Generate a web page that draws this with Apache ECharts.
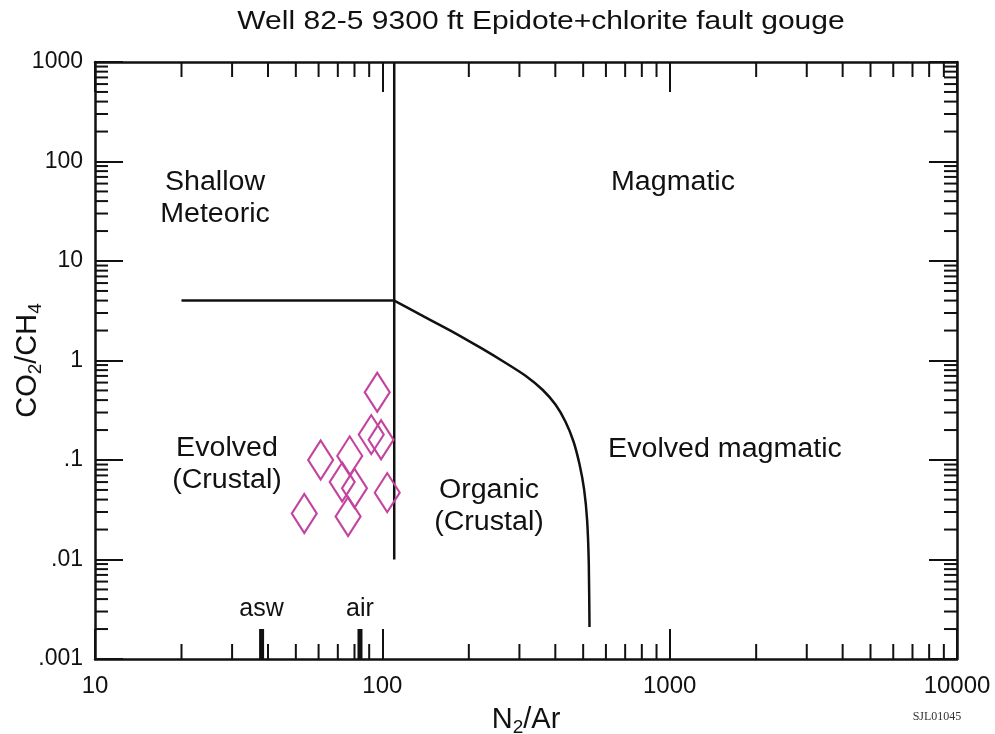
<!DOCTYPE html>
<html>
<head>
<meta charset="utf-8">
<script src="https://cdn.jsdelivr.net/npm/echarts@6/dist/echarts.min.js"></script>
<style>
  html, body { margin: 0; padding: 0; background: #fff; }
  #chart { width: 995px; height: 734px; }
</style>
</head>
<body>
<div id="chart"></div>
<script>
// samples (N2/Ar, CO2/CH4)
const sampleN2Ar   = [96, 91.5, 99, 61, 77, 72.5, 80, 104, 53.5, 76];
const sampleCO2CH4 = [0.48, 0.18, 0.16, 0.1, 0.11, 0.06, 0.052, 0.047, 0.029, 0.027];

// field boundaries
const splitN2Ar = 110;
const splitCO2CH4 = 4;
const meteoricStartN2Ar = 20;
const splitBottomCO2CH4 = 0.01;
const curveN2Ar   = [110, 135.6, 172.6, 219.5, 268, 315, 361, 401, 434, 463, 486, 504, 516, 523, 526];
const curveCO2CH4 = [4, 2.89, 2.0, 1.345, 0.95, 0.703, 0.508, 0.359, 0.242, 0.1525, 0.0894, 0.0501,
                     0.025, 0.0092, 0.0021];

// reference markers on the x axis
const refNames = ['asw', 'air'];
const refN2Ar  = [38, 83.6];
const refTop   = 0.002;

// axis ranges and minor ticks
const xMin = 10, xMax = 10000;
const yMin = 0.001, yMax = 1000;
const xMinorTicks = [20, 30, 40, 50, 60, 70, 80, 90, 200, 300, 400, 500, 600, 700, 800, 900,
                     2000, 3000, 4000, 5000, 6000, 7000, 8000, 9000];
const yMinorTicks = [0.002, 0.003, 0.004, 0.005, 0.006, 0.007, 0.008, 0.009,
                     0.02, 0.03, 0.04, 0.05, 0.06, 0.07, 0.08, 0.09,
                     0.2, 0.3, 0.4, 0.5, 0.6, 0.7, 0.8, 0.9,
                     2, 3, 4, 5, 6, 7, 8, 9,
                     20, 30, 40, 50, 60, 70, 80, 90,
                     200, 300, 400, 500, 600, 700, 800, 900];

const FONT = '"Liberation Sans", Arial, Helvetica, sans-serif';
const INK = '#111';
const PINK = '#c4439e';

const fmtNum = v => {
  const s = String(Number(v.toPrecision(6)));
  return s.startsWith('0.') ? s.slice(1) : s;
};

const chart = echarts.init(document.getElementById('chart'));

const logAxis = (min, max, position, showLabel, tickLen, splitNumber) => ({
  type: 'log',
  logBase: 10,
  min: min,
  max: max,
  splitNumber: splitNumber,
  position: position,
  axisLine: { show: true, onZero: false, lineStyle: { color: INK, width: 2.5 } },
  axisTick: { show: true, inside: true, length: tickLen, lineStyle: { color: INK, width: 2 } },
  axisLabel: { show: showLabel, color: INK, fontSize: 24, fontFamily: FONT, formatter: fmtNum },
  splitLine: { show: false }
});

const nameStyle = {
  color: INK, fontSize: 29, fontFamily: FONT, lineHeight: 34,
  rich: { s: { fontSize: 19, lineHeight: 18, verticalAlign: 'bottom', fontFamily: FONT, color: INK } }
};

const xBottom = logAxis(xMin, xMax, 'bottom', true, 30, 3);
xBottom.axisLabel.margin = 15;
xBottom.name = 'N{s|2}/Ar';
xBottom.nameLocation = 'middle';
xBottom.nameGap = 44;
xBottom.nameMoveOverlap = false;
xBottom.nameTextStyle = nameStyle;
const xTop = logAxis(xMin, xMax, 'top', false, 30, 3);

const yLeft = logAxis(yMin, yMax, 'left', true, 28, 6);
yLeft.axisLabel.margin = 12;
yLeft.axisLabel.fontSize = 23;
yLeft.name = 'CO{s|2}/CH{s|4}';
yLeft.nameLocation = 'middle';
yLeft.nameGap = 50;
yLeft.nameMoveOverlap = false;
yLeft.nameTextStyle = nameStyle;
const yRight = logAxis(yMin, yMax, 'right', false, 28, 6);

// minor ticks drawn through the axes' own scales
const minorX = {
  type: 'custom',
  silent: true,
  data: xMinorTicks.map(v => [v, 1]),
  renderItem: (params, api) => {
    const b = api.coord([api.value(0), yMin]);
    const t = api.coord([api.value(0), yMax]);
    const st = { stroke: INK, lineWidth: 2 };
    return { type: 'group', children: [
      { type: 'line', shape: { x1: b[0], y1: b[1], x2: b[0], y2: b[1] - 15 }, style: st },
      { type: 'line', shape: { x1: t[0], y1: t[1], x2: t[0], y2: t[1] + 15 }, style: st }
    ] };
  }
};
const minorY = {
  type: 'custom',
  silent: true,
  data: yMinorTicks.map(v => [100, v]),
  renderItem: (params, api) => {
    const l = api.coord([xMin, api.value(1)]);
    const r = api.coord([xMax, api.value(1)]);
    const st = { stroke: INK, lineWidth: 2 };
    return { type: 'group', children: [
      { type: 'line', shape: { x1: l[0], y1: l[1], x2: l[0] + 13, y2: l[1] }, style: st },
      { type: 'line', shape: { x1: r[0], y1: r[1], x2: r[0] - 13, y2: r[1] }, style: st }
    ] };
  }
};

const blackLine = data => ({
  type: 'line',
  data: data,
  symbol: 'none',
  silent: true,
  lineStyle: { color: INK, width: 2.5 }
});

const refSeries = refNames.map((name, i) => ({
  type: 'line',
  data: [[refN2Ar[i], yMin], [refN2Ar[i], refTop]],
  symbol: 'none',
  silent: true,
  lineStyle: { color: INK, width: 5 }
}));

const refLabels = {
  type: 'scatter',
  data: refNames.map((name, i) => ({ value: [refN2Ar[i], refTop], name: name })),
  symbolSize: 0,
  itemStyle: { color: INK, opacity: 1 },
  silent: true,
  label: {
    show: true, position: 'top', distance: 7,
    formatter: p => p.name,
    color: INK, fontSize: 25, fontFamily: FONT
  }
};

const regionText = (x, y, text) => ({
  type: 'text', x: x, y: y, scaleX: 1.06,
  style: {
    text: text, fill: INK, font: '27px ' + FONT,
    align: 'center', verticalAlign: 'middle', lineHeight: 32
  }
});

chart.setOption({
  animation: false,
  backgroundColor: '#fff',
  grid: { left: 95, right: 38, top: 62, bottom: 75, containLabel: false, outerBoundsMode: 'none' },
  xAxis: [xBottom, xTop],
  yAxis: [yLeft, yRight],
  graphic: [
    { type: 'text', x: 541, y: 22, scaleX: 1.2,
      style: { text: 'Well 82-5 9300 ft Epidote+chlorite fault gouge', fill: INK,
               font: '25px ' + FONT, align: 'center', verticalAlign: 'middle' } },
    regionText(215, 199, 'Shallow\nMeteoric'),
    regionText(673, 183, 'Magmatic'),
    regionText(227, 465, 'Evolved\n(Crustal)'),
    regionText(489, 507, 'Organic\n(Crustal)'),
    regionText(725, 450, 'Evolved magmatic'),
    { type: 'text', x: 937, y: 717,
      style: { text: 'SJL01045', fill: '#333', font: '12px "Liberation Serif", serif',
               align: 'center', verticalAlign: 'middle' } }
  ],
  series: [
    minorX,
    minorY,
    blackLine([[splitN2Ar, yMax], [splitN2Ar, splitBottomCO2CH4]]),
    blackLine([[meteoricStartN2Ar, splitCO2CH4], [splitN2Ar, splitCO2CH4]]),
    Object.assign(blackLine(curveN2Ar.map((x, i) => [x, curveCO2CH4[i]])), { smooth: 0.2 }),
    ...refSeries,
    refLabels,
    {
      type: 'scatter',
      data: sampleN2Ar.map((x, i) => [x, sampleCO2CH4[i]]),
      symbol: 'path://M0,-19L12,0L0,19L-12,0Z',
      symbolSize: [25, 39],
      itemStyle: { color: 'rgba(0,0,0,0)', borderColor: PINK, borderWidth: 2.2, opacity: 1 },
      z: 5
    }
  ]
});
</script>
</body>
</html>
